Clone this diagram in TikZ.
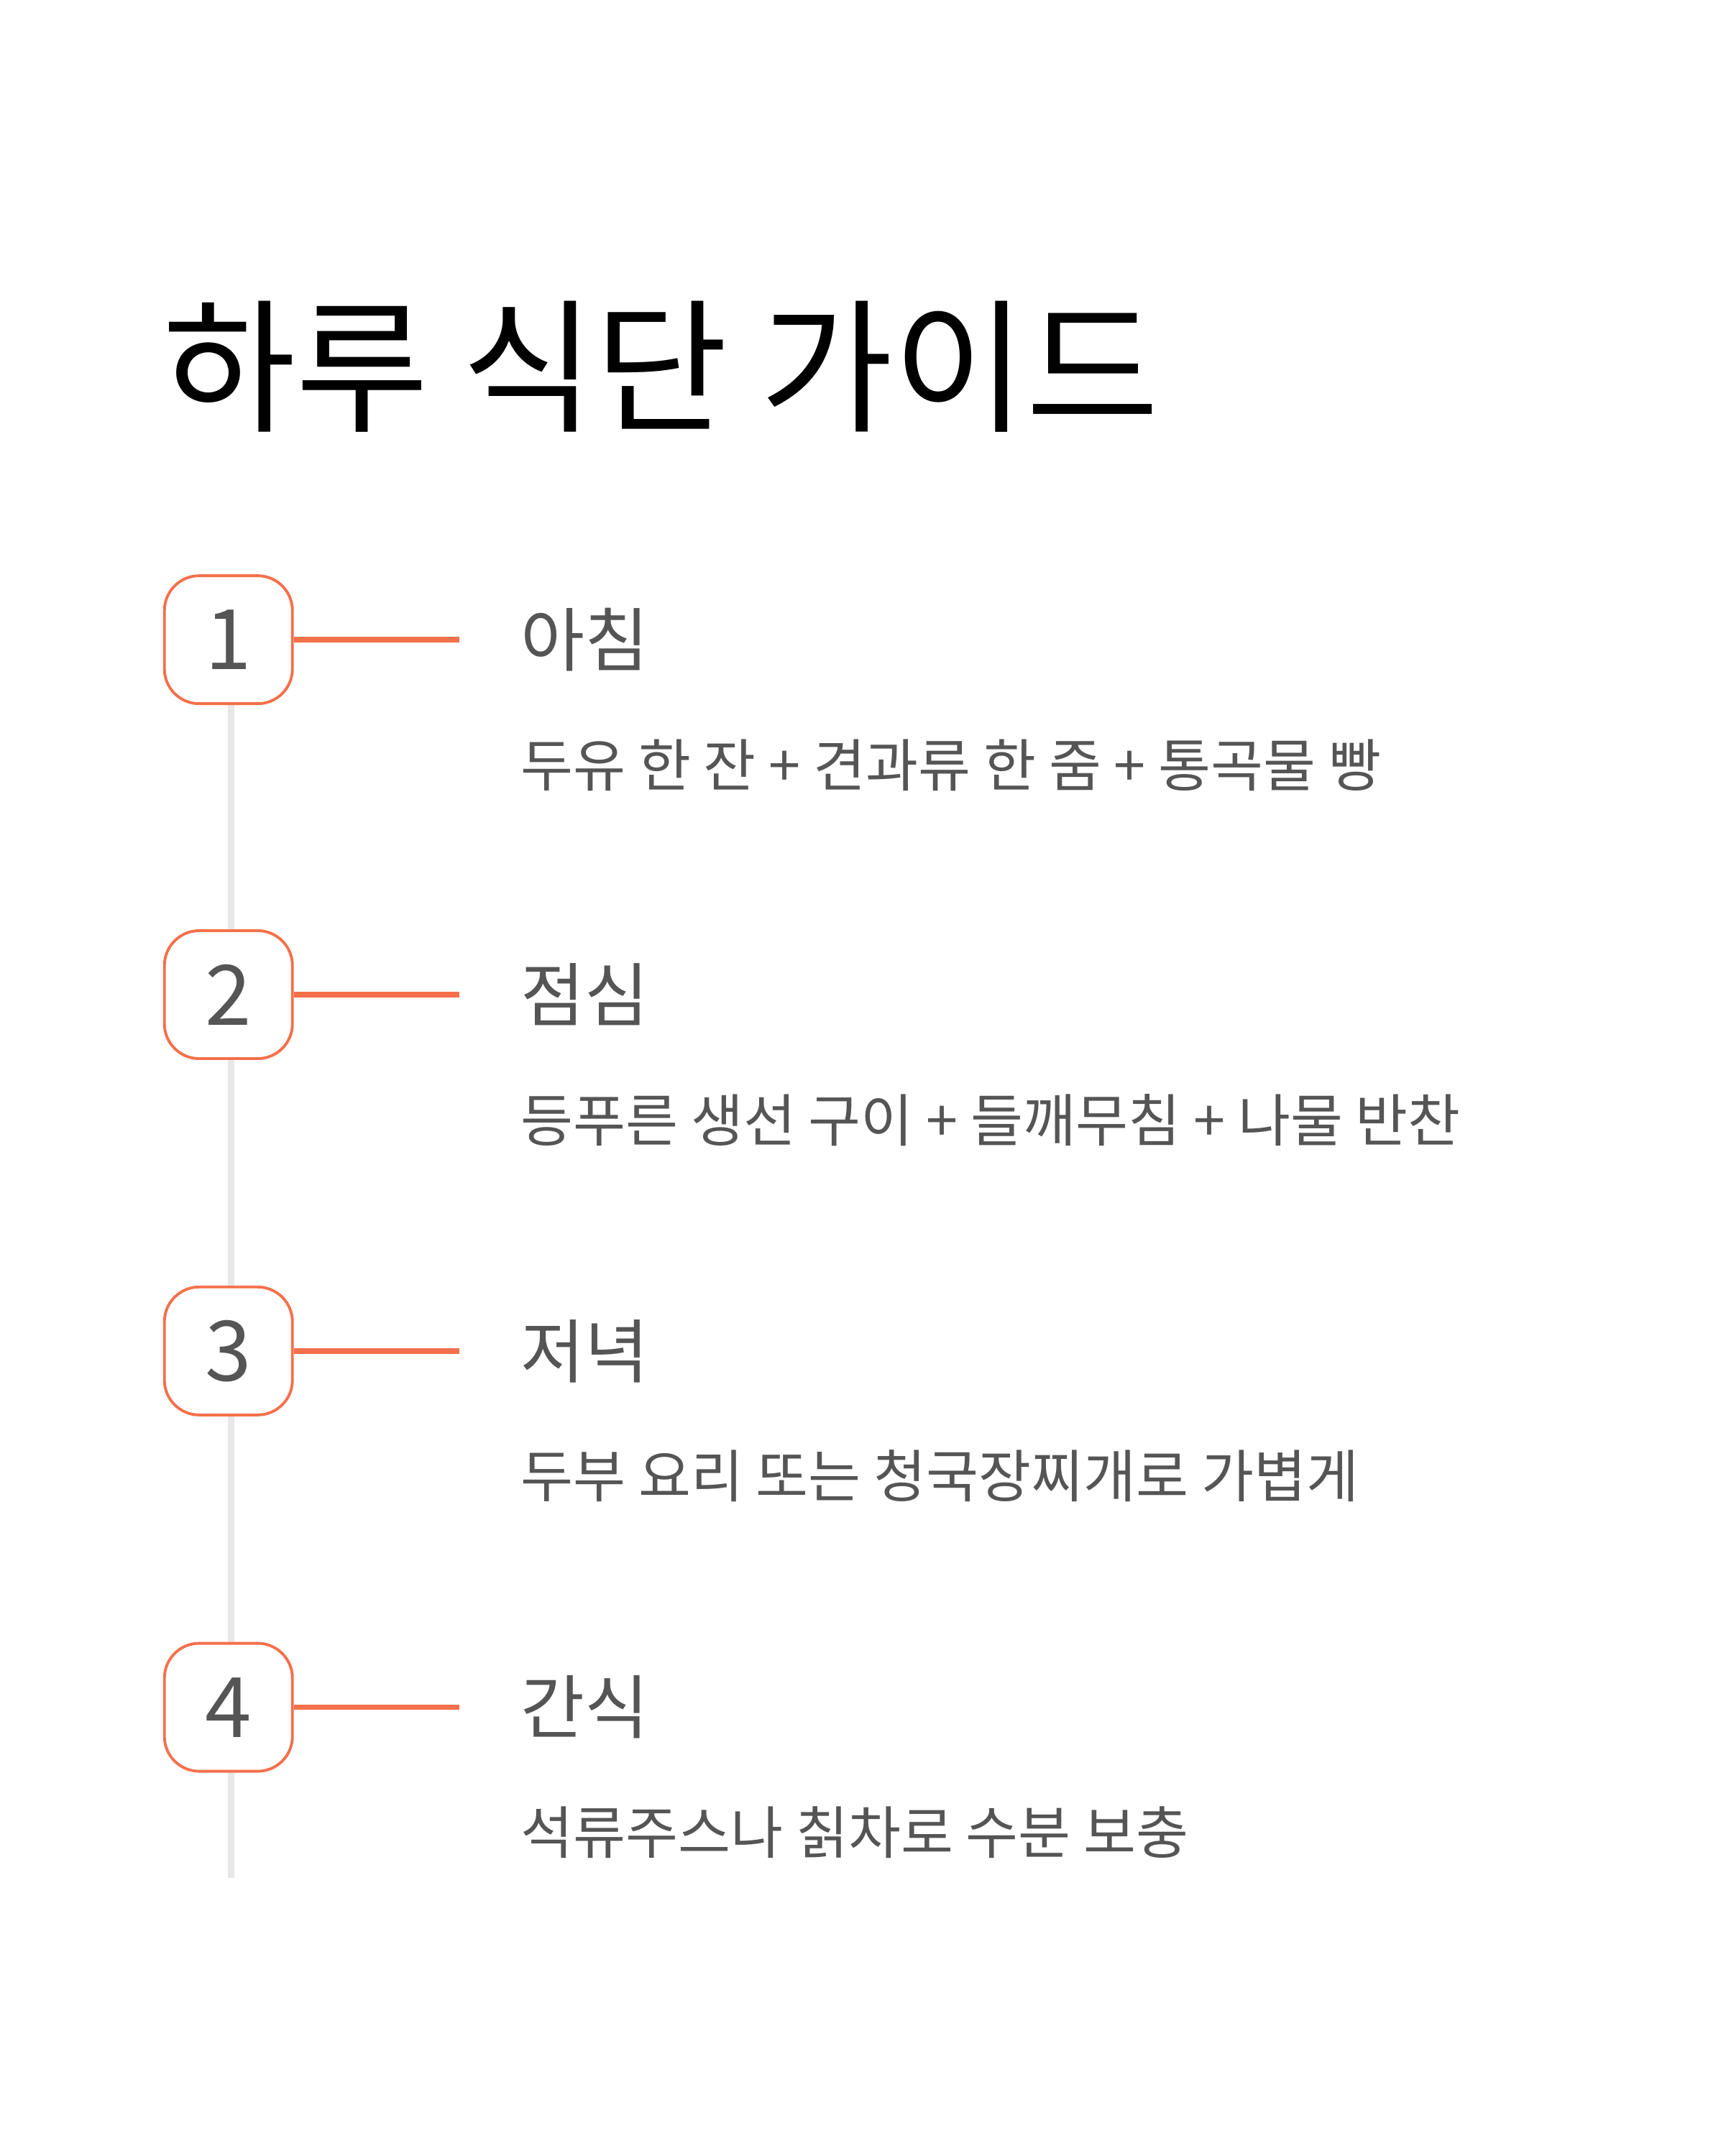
\documentclass[tikz,border=0pt]{standalone}
\usepackage{fontspec}
\setmainfont{Noto Sans CJK KR}
\definecolor{orng}{HTML}{F4704A}
\definecolor{txtg}{HTML}{555555}
\definecolor{lineg}{HTML}{E8E8E8}
\begin{document}
\begin{tikzpicture}[x=0.4945pt,y=-0.4945pt,
  numbox/.style={draw=orng,line width=1pt,fill=white,rounded corners=12.5pt,minimum width=46pt,minimum height=46pt,inner sep=0pt,font=\fontsize{30pt}{30pt}\selectfont,text=txtg},
  head/.style={anchor=west,inner sep=0pt,font=\fontsize{25pt}{25pt}\selectfont,text=txtg},
  desc/.style={anchor=west,inner sep=0pt,font=\fontsize{20.5pt}{20.5pt}\selectfont,text=txtg},
  conn/.style={draw=orng,line width=2pt}]
\useasboundingbox (0,0) rectangle (1253.8,1567.2);
\node[anchor=base west,inner sep=0pt,font=\fontsize{52pt}{52pt}\selectfont] (title) at (118,306) {하루 식단 가이드};
\coordinate (ltop) at (168,512);
\coordinate (lbot) at (168,1365);
\draw[lineg,line width=2.5pt] (ltop) -- (lbot);
\foreach \n/\y/\h/\d in {1/465/아침/{두유 한 잔 + 견과류 한 줌 + 통곡물 빵},
  2/723/점심/{등푸른 생선 구이 + 들깨무침 + 나물 반찬},
  3/982/저녁/{두부 요리 또는 청국장찌개로 가볍게},
  4/1241/간식/{석류주스나 칡차로 수분 보충}}{
  \node[numbox] (b\n) at (166,\y) {\n};
  \coordinate (e\n) at (334,\y);
  \draw[conn] (b\n.east) -- (e\n);
  \node[head] (h\n) at (378,\y) {\h};
  \node[desc] (d\n) at (378,\y+91) {\d};
}
\end{tikzpicture}
\end{document}
